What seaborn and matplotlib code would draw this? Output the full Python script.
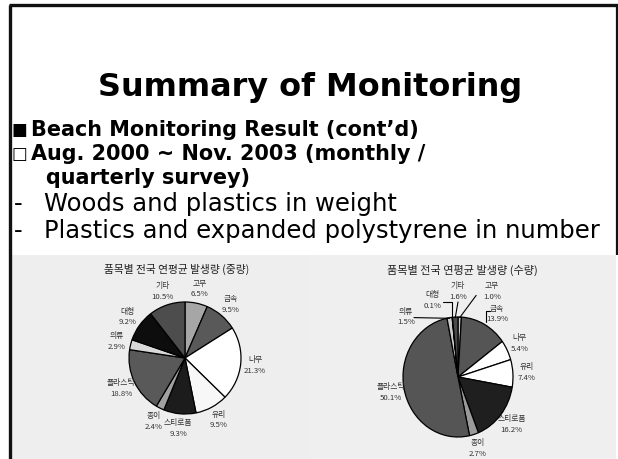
import matplotlib
matplotlib.use("Agg")
import matplotlib.pyplot as plt
import seaborn as sns
from matplotlib.patches import Rectangle
from matplotlib.lines import Line2D
import numpy as np

# ---- data -------------------------------------------------------------
categories = ["고무", "금속", "나무", "유리", "스티로폼", "종이", "플라스틱", "의류", "대형", "기타"]
weight_pct = [6.5, 9.5, 21.3, 9.5, 9.3, 2.4, 18.8, 2.9, 9.2, 10.5]
number_pct = [1.0, 13.9, 5.4, 7.4, 16.2, 2.7, 50.1, 1.5, 0.1, 1.6]
weight_colors = ["#a6a6a6", "#595959", "#ffffff", "#f7f7f7", "#1c1c1c",
                 "#a0a0a0", "#595959", "#d9d9d9", "#0d0d0d", "#4d4d4d"]
number_colors = ["#c8c8c8", "#555555", "#ffffff", "#ffffff", "#1f1f1f",
                 "#9a9a9a", "#555555", "#cccccc", "#111111", "#4a4a4a"]
weight_title = "품목별 전국 연평균 발생량 (중량)"
number_title = "품목별 전국 연평균 발생량 (수량)"

slide_title = "Summary of Monitoring"
bold_lines = ["Beach Monitoring Result (cont\u2019d)",
              "Aug. 2000 ~ Nov. 2003 (monthly /",
              "quarterly survey)"]
bold_bullets = ["\u25a0", "\u25a1", ""]
plain_lines = ["Woods and plastics in weight",
               "Plastics and expanded polystyrene in number"]

# labels of the count pie placed by hand: label centre, leader start (data units)
leaders = {
    "고무": ((0.62, 1.42), (0.33, 1.36), "arc3"),
    "기타": ((0.00, 1.42), (0.00, 1.25), "arc3"),
    "대형": ((-0.47, 1.27), (-0.27, 1.25), "angle,angleA=0,angleB=90,rad=0"),
    "의류": ((-0.95, 1.00), (-0.80, 0.99), "arc3"),
}
moved_labels = {"금속": (0.71, 1.05)}

W, H = 618, 459
KR = ["Noto Sans CJK KR", "DejaVu Sans"]

sns.set_theme(style="white")
plt.rcParams["font.family"] = ["DejaVu Sans", "Noto Sans CJK KR"]
plt.rcParams["text.color"] = "black"

fig = plt.figure(figsize=(W / 100, H / 100), dpi=100)
fig.patch.set_facecolor("white")
renderer = fig.canvas.get_renderer()


def fx(x):
    return x / W


def fy(y):
    return 1 - y / H


def fit_size(txt, width_px, **kw):
    t = fig.text(0, 0, txt, fontsize=10, **kw)
    w = t.get_window_extent(renderer).width
    t.remove()
    return 10 * width_px / w


# ---- slide frame and picture panels ----------------------------------
fig.add_artist(Rectangle((fx(10), 0), fx(299), 204 / H, transform=fig.transFigure,
                         facecolor="#eeeeee", edgecolor="none", zorder=-2))
fig.add_artist(Rectangle((fx(309), 0), fx(307), 204 / H, transform=fig.transFigure,
                         facecolor="#efefef", edgecolor="none", zorder=-2))
fig.add_artist(Line2D([fx(8.5), fx(618)], [fy(4.5), fy(4.5)], color="#111111", lw=2.4,
                      transform=fig.transFigure, zorder=5, solid_capstyle="butt"))
fig.add_artist(Line2D([fx(9.5), fx(9.5)], [fy(4.5), 0], color="#111111", lw=2.4,
                      transform=fig.transFigure, zorder=5, solid_capstyle="butt"))
fig.add_artist(Line2D([fx(617), fx(617)], [fy(4.5), fy(255)], color="#111111", lw=1.6,
                      transform=fig.transFigure, zorder=5, solid_capstyle="butt"))

# ---- slide text --------------------------------------------------------
ts = fit_size(slide_title, 424, fontweight="bold")
fig.text(fx(310), fy(96), slide_title, fontsize=ts, fontweight="bold",
         color="black", ha="center", va="baseline")

bs = fit_size(bold_lines[0], 388, fontweight="bold")
bold_y = [136, 160, 184]
bold_x = [31, 31, 46]
for bullet, line, y, x in zip(bold_bullets, bold_lines, bold_y, bold_x):
    if bullet:
        fig.text(fx(12), fy(y - 1), bullet, fontsize=bs * 0.8, color="black",
                 ha="left", va="baseline")
    fig.text(fx(x), fy(y), line, fontsize=bs, fontweight="bold", color="black",
             ha="left", va="baseline")

ps = fit_size(plain_lines[1], 556)
for line, y in zip(plain_lines, [211, 238]):
    fig.text(fx(14), fy(y), "-", fontsize=ps, color="black", ha="left", va="baseline")
    fig.text(fx(44), fy(y), line, fontsize=ps, color="black", ha="left", va="baseline")

# ---- pies --------------------------------------------------------------
lab_kw = dict(fontsize=5.6, color="#333333", family=KR, linespacing=1.45)
wedge_kw = dict(edgecolor="black", linewidth=0.9)


def labels_for(vals):
    return [f"{c}\n{v:.1f}%" for c, v in zip(categories, vals)]


# weight pie: centre (185, 358) px, radius 56 px
ax1 = fig.add_axes([fx(10), 0, fx(299), 204 / H])
wedges1, texts1 = ax1.pie(weight_pct, labels=labels_for(weight_pct), colors=weight_colors,
                          startangle=90, counterclock=False, labeldistance=1.26,
                          wedgeprops=wedge_kw, textprops=lab_kw)
for t in texts1:
    t.set_ha("center")
    t.set_va("center")
ax1.set_aspect("auto")
ax1.set_xlim(-175 / 56, 124 / 56)
ax1.set_ylim(-101 / 56, 103 / 56)
ax1.axis("off")
s1 = fit_size(weight_title, 145, family=KR)
fig.text(fx(177), fy(269), weight_title, fontsize=s1, family=KR, color="#222222",
         ha="center", va="center")

# count pie: centre (458, 377) px, radii 55 x 60 px
ax2 = fig.add_axes([fx(309), 0, fx(307), 204 / H])
wedges2, texts2 = ax2.pie(number_pct, labels=labels_for(number_pct), colors=number_colors,
                          startangle=90, counterclock=False, labeldistance=1.25,
                          wedgeprops=wedge_kw, textprops=lab_kw)
for w, t, name in zip(wedges2, texts2, categories):
    t.set_ha("center")
    t.set_va("center")
    if name in leaders:
        pos, start, conn = leaders[name]
        t.set_position(pos)
        mid = np.deg2rad((w.theta1 + w.theta2) / 2)
        edge = (np.cos(mid) * 0.99, np.sin(mid) * 0.99)
        ax2.annotate("", xy=edge, xytext=start,
                     arrowprops=dict(arrowstyle="-", lw=0.8, color="black",
                                     shrinkA=0, shrinkB=0, connectionstyle=conn))
    elif name in moved_labels:
        x, y = moved_labels[name]
        t.set_position((x, y))
        ax2.annotate("", xy=(x - 0.2, y - 0.14), xytext=(x - 0.12, y + 0.05),
                     arrowprops=dict(arrowstyle="-", lw=0.8, color="black",
                                     shrinkA=0, shrinkB=0,
                                     connectionstyle="angle,angleA=180,angleB=90,rad=0"))
ax2.set_aspect("auto")
ax2.set_xlim(-149 / 55, 158 / 55)
ax2.set_ylim(-82 / 60, 122 / 60)
ax2.axis("off")
s2 = fit_size(number_title, 150, family=KR)
fig.text(fx(462), fy(270), number_title, fontsize=s2, family=KR, color="#222222",
         ha="center", va="center")

fig.savefig("out.png", dpi=100)
